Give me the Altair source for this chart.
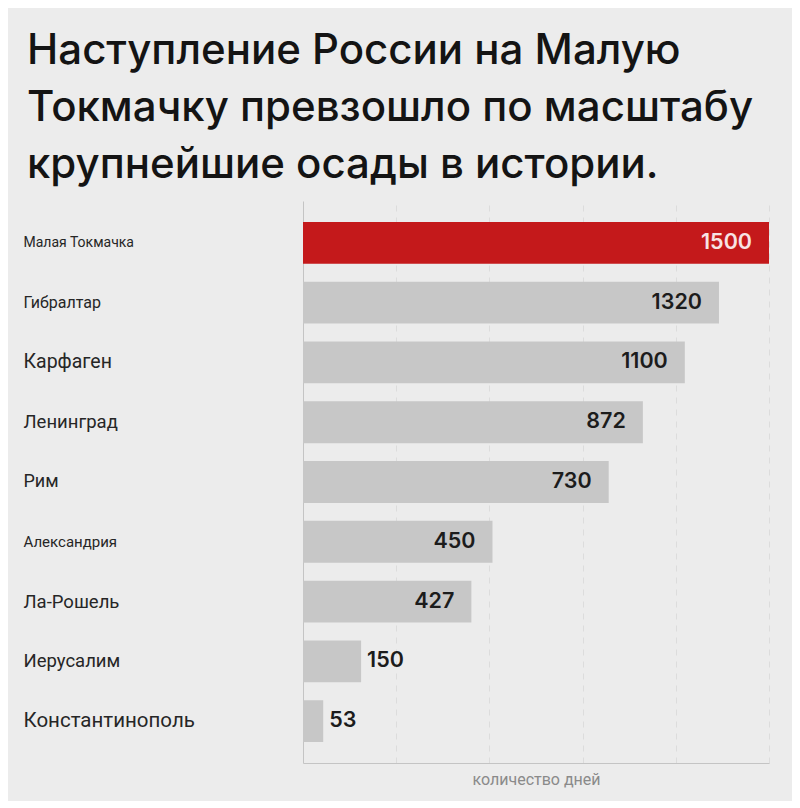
import pandas as pd
import altair as alt

# Sieges, in the order shown (top to bottom)
names = [
    "Малая Токмачка", "Гибралтар", "Карфаген", "Ленинград", "Рим",
    "Александрия", "Ла-Рошель", "Иерусалим", "Константинополь",
]
# Numbers printed on the bars
days = [1500, 1320, 1100, 872, 730, 450, 427, 150, 53]
bar_length = [1500, 1339, 1229, 1094, 984, 610, 542, 187, 65]
grid_values = [300, 600, 900, 1200, 1500]

highlight = "Малая Токмачка"
title_lines = [
    "Наступление России на Малую",
    "Токмачку превзошло по масштабу",
    "крупнейшие осады в истории.",
]
x_title = "количество дней"

# label sizes differ in the original image
label_sizes = {
    "Малая Токмачка": 14, "Гибралтар": 16, "Карфаген": 19.5, "Ленинград": 18.5,
    "Рим": 18, "Александрия": 15, "Ла-Рошель": 18.5, "Иерусалим": 18.5,
    "Константинополь": 20.5,
}
size_expr = " : ".join(
    f"datum.value == '{k}' ? {v}" for k, v in label_sizes.items()
) + " : 16"

df = pd.DataFrame({"name": names, "days": days, "length": bar_length})

y_enc = alt.Y(
    "name:N",
    sort=names,
    title=None,
    scale=alt.Scale(paddingInner=0.3, paddingOuter=0.35),
    axis=alt.Axis(
        labelAlign="left",
        labelPadding=280,
        labelFont="Roboto",
        labelFontSize={"expr": size_expr},
        labelColor="#262626",
        ticks=False,
        domainColor="#c4c4c4",
        grid=False,
    ),
)
x_scale = alt.Scale(domain=[0, 1500], nice=False)

bars = alt.Chart(df).mark_bar().encode(
    x=alt.X(
        "length:Q",
        scale=x_scale,
        title=x_title,
        axis=alt.Axis(
            values=grid_values,
            labels=False,
            ticks=False,
            grid=True,
            gridDash=[6, 6],
            gridColor="#dcdcdc",
            domainColor="#c4c4c4",
            titleFont="Roboto",
            titleFontSize=16,
            titleFontWeight="normal",
            titleColor="#8a8a8a",
            titlePadding=8,
        ),
    ),
    y=y_enc,
    color=alt.condition(
        alt.datum.name == highlight, alt.value("#c4191b"), alt.value("#c7c7c7")
    ),
)

inside = alt.Chart(df).transform_filter(alt.datum.days > 300).mark_text(
    align="right", dx=-17, font="Inter", fontSize=21.5, fontWeight=600
).encode(
    x=alt.X("length:Q", scale=x_scale),
    y=alt.Y("name:N", sort=names),
    text="days:Q",
    color=alt.condition(
        alt.datum.name == highlight, alt.value("#f7e3e3"), alt.value("#1c1c1c")
    ),
)

outside = alt.Chart(df).transform_filter(alt.datum.days <= 300).mark_text(
    align="left", dx=6, font="Inter", fontSize=21.5, fontWeight=600,
    color="#1c1c1c",
).encode(
    x=alt.X("length:Q", scale=x_scale),
    y=alt.Y("name:N", sort=names),
    text="days:Q",
)

chart = (
    alt.layer(bars, inside, outside)
    .properties(
        width=466,
        height=562,
        background="#ececec",
        padding={"left": 15, "top": 22, "right": 23, "bottom": 14},
        title=alt.TitleParams(
            title_lines,
            anchor="start",
            frame="bounds",
            font="Inter",
            fontSize=42,
            fontWeight=500,
            color="#141414",
            lineHeight=57,
            offset=14,
            dx=4,
        ),
    )
    .configure_view(stroke=None)
)

chart.save("out.html", embed_options={"renderer": "svg", "actions": False})
